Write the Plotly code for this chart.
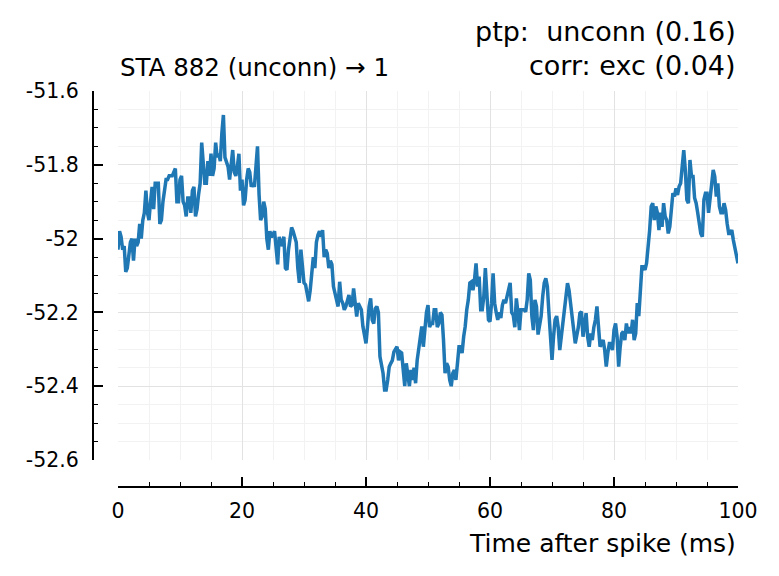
import plotly.graph_objects as go

# membrane potential (mV), one value every 0.25 ms
sta_mv = [
    -52.03, -51.98, -51.995, -52.03, -52.02, -52.09, -52.08, -52.05, -52.01, -52.00,
    -52.06, -52.00, -52.02, -52.01, -51.96, -52.00, -51.95, -51.93, -51.87, -51.93,
    -51.95, -51.90, -51.86, -51.92, -51.85, -51.85, -51.85, -51.96, -51.95, -51.90,
    -51.87, -51.84, -51.84, -51.83, -51.83, -51.83, -51.82, -51.81, -51.90, -51.90,
    -51.84, -51.83, -51.90, -51.91, -51.94, -51.89, -51.89, -51.93, -51.87, -51.86,
    -51.94, -51.92, -51.88, -51.85, -51.74, -51.80, -51.85, -51.85, -51.79, -51.83,
    -51.77, -51.83, -51.81, -51.74, -51.78, -51.77, -51.79, -51.715, -51.665, -51.78,
    -51.79, -51.805, -51.84, -51.80, -51.76, -51.82, -51.83, -51.805, -51.77, -51.87,
    -51.84, -51.91, -51.895, -51.84, -51.81, -51.82, -51.86, -51.85, -51.86, -51.805,
    -51.75, -51.88, -51.95, -51.94, -51.90, -51.92, -52.00, -52.03, -51.98, -51.995,
    -51.99, -51.98, -52.04, -52.07, -51.995, -52.02, -52.01, -51.995, -52.08, -52.085,
    -52.03, -51.99, -51.97, -51.98, -51.995, -52.01, -52.08, -52.12, -52.03, -52.08,
    -52.12, -52.125, -52.15, -52.17, -52.14, -52.095, -52.05, -52.08, -52.01, -51.99,
    -51.98, -51.995, -51.977, -52.05, -52.03, -52.04, -52.08, -52.06, -52.07, -52.13,
    -52.148, -52.166, -52.184, -52.117, -52.166, -52.175, -52.193, -52.184, -52.17, -52.153,
    -52.184, -52.18, -52.135, -52.184, -52.211, -52.175, -52.184, -52.193, -52.238, -52.257,
    -52.284, -52.238, -52.184, -52.162, -52.22, -52.23, -52.19, -52.184, -52.20, -52.32,
    -52.343, -52.365, -52.41, -52.41, -52.383, -52.347, -52.338, -52.33, -52.307, -52.297,
    -52.293, -52.33, -52.307, -52.31, -52.356, -52.40, -52.338, -52.37, -52.40, -52.356,
    -52.383, -52.35, -52.392, -52.33, -52.293, -52.257, -52.238, -52.293, -52.23, -52.20,
    -52.18, -52.24, -52.23, -52.23, -52.193, -52.193, -52.24, -52.23, -52.20, -52.207,
    -52.275, -52.365, -52.338, -52.347, -52.383, -52.40, -52.365, -52.356, -52.383, -52.347,
    -52.293, -52.293, -52.31, -52.266, -52.238, -52.193, -52.166, -52.12, -52.117, -52.14,
    -52.112, -52.067, -52.13, -52.103, -52.193, -52.193, -52.157, -52.08, -52.157, -52.22,
    -52.225, -52.175, -52.094, -52.175, -52.20, -52.22, -52.20, -52.215, -52.18, -52.166,
    -52.175, -52.157, -52.14, -52.12, -52.20, -52.207, -52.24, -52.162, -52.20, -52.248,
    -52.193, -52.193, -52.193, -52.198, -52.166, -52.094, -52.112, -52.21, -52.248, -52.166,
    -52.184, -52.26, -52.24, -52.21, -52.157, -52.12, -52.108, -52.13, -52.20, -52.266,
    -52.329, -52.266, -52.22, -52.21, -52.24, -52.302, -52.266, -52.243, -52.21, -52.162,
    -52.121, -52.14, -52.184, -52.22, -52.248, -52.284, -52.266, -52.24, -52.202, -52.198,
    -52.266, -52.24, -52.202, -52.266, -52.293, -52.257, -52.275, -52.24, -52.22, -52.184,
    -52.24, -52.293, -52.284, -52.275, -52.302, -52.347, -52.31, -52.284, -52.284, -52.302,
    -52.248, -52.23, -52.266, -52.347, -52.293, -52.257, -52.252, -52.275, -52.23, -52.257,
    -52.24, -52.257, -52.22, -52.275, -52.257, -52.175, -52.21, -52.157, -52.076, -52.076,
    -52.085, -52.067, -52.031, -51.977, -51.913, -51.904, -51.95, -51.913, -51.93, -51.977,
    -51.93, -51.968, -51.904, -51.94, -51.95, -51.986, -51.968, -51.913, -51.877, -51.886,
    -51.864, -51.882, -51.859, -51.85, -51.805, -51.76, -51.814, -51.895, -51.904, -51.787,
    -51.832, -51.832, -51.89, -51.904, -51.93, -51.959, -51.986, -51.995, -51.895, -51.877,
    -51.877, -51.93, -51.895, -51.859, -51.814, -51.832, -51.886, -51.85, -51.913, -51.93,
    -51.93, -51.904, -51.922, -51.959, -51.986, -51.986, -51.977, -52.004, -52.022, -52.05,
    -52.067,
]
# time after spike (ms)
time_ms = [i * 0.25 for i in range(len(sta_mv))]

x_tickvals = [0, 20, 40, 60, 80, 100]
x_ticktext = ["0", "20", "40", "60", "80", "100"]
y_tickvals = [-51.6, -51.8, -52.0, -52.2, -52.4, -52.6]
y_ticktext = ["-51.6", "-51.8", "-52", "-52.2", "-52.4", "-52.6"]

title_text = "STA 882 (unconn) \u2192 1"
info_line1 = "ptp:  unconn (0.16)"
info_line2 = "corr: exc (0.04)"
xlabel = "Time after spike (ms)"

FONT = "DejaVu Sans"
W, H = 779, 576
ML, MR, MT, MB = 93, 41, 91, 89
plot_w = W - ML - MR
plot_h = H - MT - MB
x_dom0 = (118 - ML) / plot_w
y_dom0 = (H - MB - 460) / plot_h

fig = go.Figure()
fig.add_trace(go.Scatter(
    x=time_ms, y=sta_mv, mode="lines",
    line=dict(color="#1f77b4", width=3.5),
    showlegend=False, hoverinfo="skip",
))

axis_common = dict(
    anchor="free", position=0,
    ticks="inside", ticklen=9, tickwidth=1.5, tickcolor="black",
    showline=True, linecolor="black", linewidth=2,
    showgrid=True, gridcolor="#e2e2e2", gridwidth=1,
    zeroline=False, tickfont=dict(size=20.5, family=FONT),
)

fig.update_layout(
    width=W, height=H,
    margin=dict(l=ML, r=MR, t=MT, b=MB, autoexpand=False),
    paper_bgcolor="white", plot_bgcolor="white",
    font=dict(family=FONT, color="black", size=20),
    xaxis=dict(
        domain=[x_dom0, 1], range=[0, 100],
        tickmode="array", tickvals=x_tickvals, ticktext=x_ticktext,
        ticklabelstandoff=5,
        minor=dict(tickmode="linear", tick0=0, dtick=5, ticks="inside", ticklen=4,
                   tickwidth=1.2, tickcolor="black", showgrid=True,
                   gridcolor="#f2f2f2", gridwidth=1),
        **axis_common,
    ),
    yaxis=dict(
        domain=[y_dom0, 1], range=[-52.6, -51.6],
        tickmode="array", tickvals=y_tickvals, ticktext=y_ticktext,
        ticklabelstandoff=9,
        minor=dict(tickmode="linear", tick0=-52.6, dtick=0.05, ticks="inside", ticklen=4,
                   tickwidth=1.2, tickcolor="black", showgrid=True,
                   gridcolor="#f2f2f2", gridwidth=1),
        **axis_common,
    ),
    annotations=[
        dict(text=title_text, xref="paper", yref="paper", x=x_dom0, y=1,
             xanchor="left", yanchor="bottom", yshift=7, showarrow=False,
             font=dict(size=24.5, family=FONT)),
        dict(text=info_line1, xref="paper", yref="paper", x=1, y=1,
             xanchor="right", yanchor="bottom", yshift=42, showarrow=False,
             font=dict(size=27, family=FONT)),
        dict(text=info_line2, xref="paper", yref="paper", x=1, y=1,
             xanchor="right", yanchor="bottom", yshift=8, showarrow=False,
             font=dict(size=27, family=FONT)),
        dict(text=xlabel, xref="paper", yref="paper", x=1, y=0,
             xanchor="right", yanchor="top", yshift=-40, showarrow=False,
             font=dict(size=25, family=FONT)),
    ],
)

fig.write_html("out.html", config={"displayModeBar": False},
               post_script="document.body.style.margin='0';")
